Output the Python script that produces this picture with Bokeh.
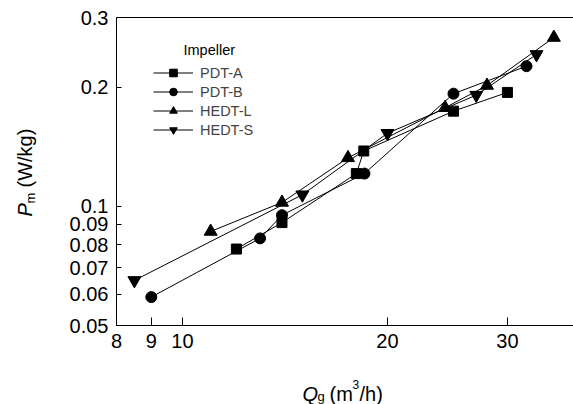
from math import pi
from bokeh.plotting import figure
from bokeh.models import FixedTicker, Label, Legend, LegendItem, LogAxis
from bokeh.embed import file_html
from bokeh.resources import INLINE

FONT = "Liberation Sans"

# Data (Q_g in m3/h, P_m in W/kg)
pdta_x = [12.0, 14.0, 18.0, 18.46, 25.0, 30.0]
pdta_y = [0.078, 0.091, 0.121, 0.138, 0.174, 0.194]

pdtb_x = [9.0, 13.0, 14.0, 18.5, 25.0, 32.0]
pdtb_y = [0.059, 0.083, 0.095, 0.121, 0.1926, 0.226]

hedtl_x = [11.0, 14.0, 17.5, 24.3, 28.0, 35.1]
hedtl_y = [0.0864, 0.1023, 0.1326, 0.1775, 0.202, 0.267]

hedts_x = [8.5, 15.0, 20.0, 27.0, 33.1]
hedts_y = [0.065, 0.107, 0.153, 0.191, 0.242]

x_ticks = [8, 9, 10, 20, 30]
y_ticks = [0.05, 0.06, 0.07, 0.08, 0.09, 0.1, 0.2, 0.3]
y_tick_labels = ["0.05", "0.06", "0.07", "0.08", "0.09", "0.1", "0.2", "0.3"]

# axis extents (data) and the view range around them
X_MIN, X_MAX = 8, 37.5
Y_MIN, Y_MAX = 0.05, 0.3
VIEW_X = (5.405, 37.51)
VIEW_Y = (0.031578, 0.33119)

p = figure(width=573, height=404, x_axis_type="log", y_axis_type="log",
           x_range=VIEW_X, y_range=VIEW_Y,
           output_backend="svg", toolbar_location=None,
           min_border_left=0, min_border_right=0,
           min_border_top=0, min_border_bottom=0)
p.outline_line_color = None
p.xgrid.grid_line_color = None
p.ygrid.grid_line_color = None
p.background_fill_color = "white"

for ax in (p.xaxis[0], p.yaxis[0]):
    ax.axis_line_color = "black"
    ax.axis_line_width = 1
    ax.major_tick_line_color = "black"
    ax.major_tick_out = 0
    ax.minor_tick_line_color = None
    ax.major_label_text_font = FONT
    ax.major_label_text_font_size = "20px"
    ax.major_label_text_color = "black"
    ax.major_label_standoff = 8
    ax.axis_label = None

p.xaxis.fixed_location = Y_MIN
p.xaxis.bounds = (X_MIN, X_MAX)
p.xaxis.ticker = FixedTicker(ticks=x_ticks)
p.xaxis.major_label_overrides = {float(t): str(t) for t in x_ticks}
p.xaxis.major_tick_in = 8

p.yaxis.fixed_location = X_MIN
p.yaxis.bounds = (Y_MIN, Y_MAX)
p.yaxis.ticker = FixedTicker(ticks=y_ticks)
p.yaxis.major_label_overrides = {t: s for t, s in zip(y_ticks, y_tick_labels)}
p.yaxis.major_tick_in = 5

top = LogAxis(fixed_location=Y_MAX, bounds=(X_MIN, X_MAX), ticker=FixedTicker(ticks=[]),
              axis_line_color="black", axis_line_width=1,
              major_tick_in=0, major_tick_out=0, minor_tick_line_color=None,
              major_label_text_font_size="0px")
p.add_layout(top, "above")

series = [
    ("PDT-A", pdta_x, pdta_y, "square", 10),
    ("PDT-B", pdtb_x, pdtb_y, "circle", 11),
    ("HEDT-L", hedtl_x, hedtl_y, "triangle", 13),
    ("HEDT-S", hedts_x, hedts_y, "inverted_triangle", 13),
]
items = []
for name, xs, ys, marker, size in series:
    ln = p.line(xs, ys, line_color="black", line_width=1)
    sc = p.scatter(xs, ys, marker=marker, size=size, fill_color="black", line_color="black")
    items.append(LegendItem(label=name, renderers=[ln, sc]))

legend = Legend(items=items, location=(153, 265), glyph_width=40, glyph_height=19,
                label_height=19, spacing=0, padding=0, margin=0, label_standoff=7,
                border_line_color=None, background_fill_alpha=0,
                label_text_font=FONT, label_text_font_size="14.5px")
p.add_layout(legend)

def lab(text, x, y, size, angle=0, style="normal", baseline="alphabetic"):
    p.add_layout(Label(x=x, y=y, x_units="screen", y_units="screen", text=text,
                       angle=angle, text_font=FONT, text_font_size=size,
                       text_font_style=style, text_baseline=baseline,
                       text_align="left", text_color="black"))

# legend title
lab("Impeller", 183, 355, "14.5px", baseline="middle")

# x-axis label: Q_g (m^3/h)
lab("Q", 302, 11, "20px", style="italic")
lab("g", 317, 8, "13px")
lab("(m", 329, 11, "20px")
lab("3", 352, 20, "12px")
lab("/h)", 359, 11, "20px")

# y-axis label: P_m (W/kg)
lab("P", 24, 188, "20px", angle=pi / 2, style="italic")
lab("m", 30, 201, "13px", angle=pi / 2)
lab("(W/kg)", 24, 217, "20px", angle=pi / 2)

open("out.html", "w").write(file_html(p, INLINE))
